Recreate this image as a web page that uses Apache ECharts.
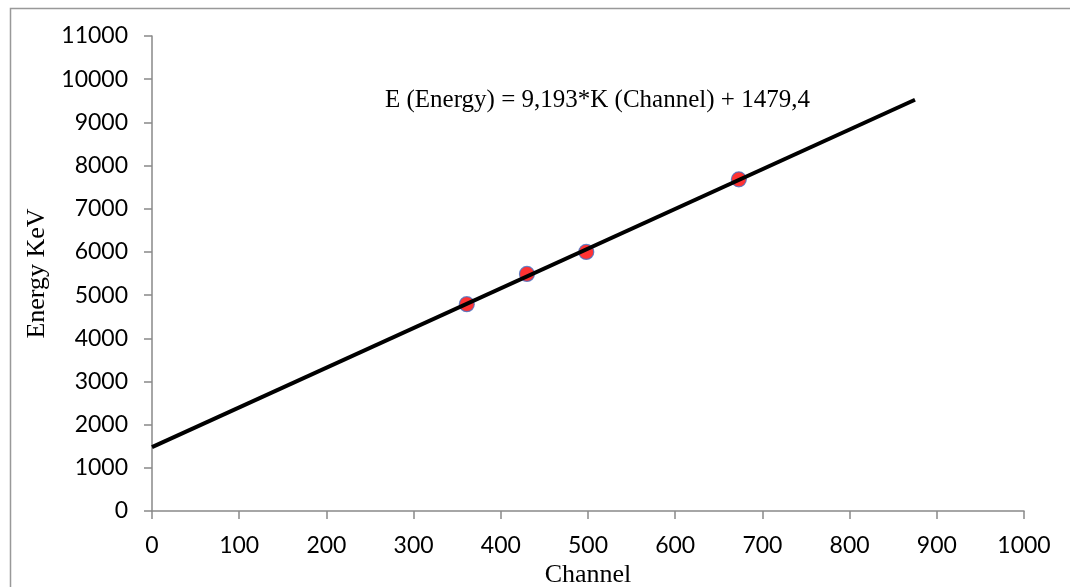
<!DOCTYPE html>
<html>
<head>
<meta charset="utf-8">
<script src="https://cdn.jsdelivr.net/npm/echarts@6/dist/echarts.min.js"></script>
<style>
html,body{margin:0;padding:0;background:#fff;}
#chart{width:1070px;height:587px;}
</style>
</head>
<body>
<div id="chart"></div>
<script>
// Measured points (Channel, Energy keV)
const channels = [361, 430, 498, 673];
const energies = [4790, 5490, 6000, 7680];
// Trendline endpoints
const trendChannels = [0, 875];
const trendEnergies = [1479.4, 9523.3];
const equationText = 'E (Energy) = 9,193*K (Channel) + 1479,4';

const chart = echarts.init(document.getElementById('chart'));
const labelFont = { fontFamily: 'Lato', fontSize: 23, color: '#000' };
const titleFont = { fontFamily: 'Liberation Serif', fontSize: 26, color: '#000' };
const axisColor = '#898989';
const plain = v => String(v);

chart.setOption({
  animation: false,
  backgroundColor: '#fff',
  grid: { left: 152, right: 46, top: 36, bottom: 76, containLabel: false, outerBoundsMode: 'none' },
  xAxis: {
    type: 'value', min: 0, max: 1000, interval: 100,
    name: 'Channel', nameLocation: 'middle', nameGap: 50, nameTextStyle: titleFont,
    axisLine: { show: true, lineStyle: { color: axisColor, width: 1.5 } },
    axisTick: { show: true, inside: false, length: 8, lineStyle: { color: axisColor, width: 1.5 } },
    axisLabel: Object.assign({ margin: 23, formatter: plain }, labelFont),
    splitLine: { show: false }
  },
  yAxis: {
    type: 'value', min: 0, max: 11000, interval: 1000,
    name: 'Energy KeV', nameLocation: 'middle', nameGap: 101, nameTextStyle: titleFont,
    axisLine: { show: true, onZero: false, lineStyle: { color: axisColor, width: 1.5 } },
    axisTick: { show: true, inside: false, length: 8, lineStyle: { color: axisColor, width: 1.5 } },
    axisLabel: Object.assign({ margin: 24, formatter: plain }, labelFont),
    splitLine: { show: false }
  },
  graphic: [
    { type: 'rect', shape: { x: 10.5, y: 8.5, width: 1100, height: 600 },
      style: { fill: 'none', stroke: '#999', lineWidth: 1.5 }, silent: true, z: -1 },
    { type: 'text', left: 385, top: 88,
      style: { text: equationText, fontFamily: 'Liberation Serif', fontSize: 25, fill: '#000' } }
  ],
  series: [
    {
      type: 'line',
      data: trendChannels.map((c, i) => [c, trendEnergies[i]]),
      showSymbol: false, symbol: 'none',
      lineStyle: { color: '#000', width: 4 },
      z: 3
    },
    {
      type: 'scatter',
      data: channels.map((c, i) => [c, energies[i]]),
      symbol: 'circle', symbolSize: 15,
      itemStyle: { color: '#ff0000', borderColor: '#4472c4', borderWidth: 1.2 },
      z: 2
    }
  ]
});
</script>
</body>
</html>
